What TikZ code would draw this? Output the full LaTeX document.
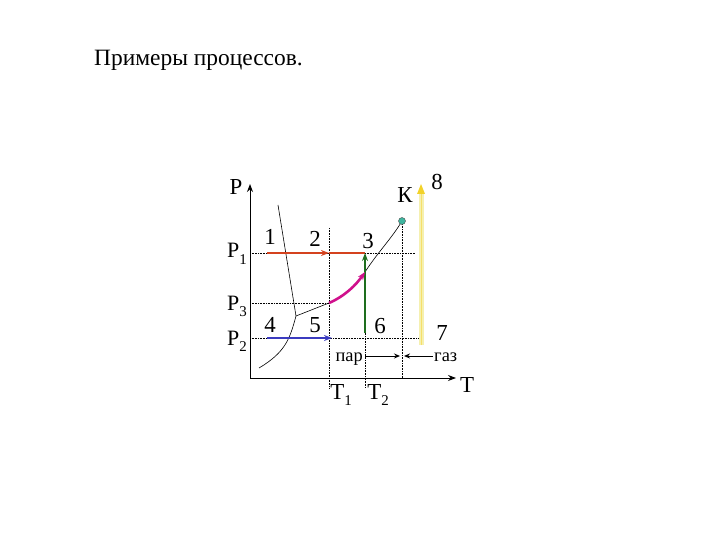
\documentclass[tikz,border=0pt]{standalone}
\usepackage{fontspec}
\setmainfont{Liberation Serif}
\newfontfamily\tnr{Liberation Serif}
\usetikzlibrary{arrows.meta}
\definecolor{redl}{HTML}{D4421E}
\definecolor{bluel}{HTML}{3B3BBF}
\definecolor{magl}{HTML}{D0108C}
\definecolor{greenl}{HTML}{1E6E1E}
\definecolor{yell}{HTML}{F5F0B0}
\definecolor{yelh}{HTML}{F2D22A}
\definecolor{tealk}{HTML}{3FB6A0}
\newcommand\lsub[1]{\raisebox{-0.3em}{\fontsize{15}{15}\selectfont #1}}
\tikzset{
  lbl/.style={inner sep=0pt, font=\tnr\fontsize{23}{25}\selectfont},
  plbl/.style={inner sep=0pt, font=\tnr\fontsize{22}{24}\selectfont},
  small/.style={inner sep=0pt, font=\tnr\fontsize{18.5}{20}\selectfont},
  grid/.style={black, densely dotted, line width=0.6bp},
  phase/.style={black, line width=0.6bp},
  axis/.style={black, line width=1bp, -{Stealth[length=8bp,width=6bp]}},
  proc/.style={line width=2.6bp, -{Stealth[length=8bp,width=6bp]}},
  thin arrow/.style={black, line width=1bp, -{Stealth[length=6bp,width=5bp]}},
}
\begin{document}
\begin{tikzpicture}[x=1bp,y=-1bp]
\useasboundingbox (0,0) rectangle (720,540);
% title
\node[anchor=base west, inner sep=0pt, font=\tnr\fontsize{23.5}{26}\selectfont] (title) at (94,66) {Примеры процессов.};
% key coordinates
\coordinate (O) at (250,378);
\coordinate (Ptop) at (250,184);
\coordinate (Tend) at (456,378);
\coordinate (K) at (402,221);
\coordinate (A1) at (267,253);
\coordinate (A2) at (329,253);
\coordinate (A3) at (365,253);
\coordinate (A4) at (267,338);
\coordinate (A5) at (332,338);
\coordinate (A6) at (365,333);
\coordinate (M0) at (329,303);
\coordinate (M1) at (365,272);
\coordinate (Tr) at (296,316);
% grid lines
\draw[grid] (250,253) -- (416,253);
\draw[grid] (250,303) -- (329,303);
\draw[grid] (250,338) -- (420,338);
\draw[grid] (329,228) -- (329,388);
\draw[grid] (365,253) -- (365,388);
\draw[grid] (K) -- (402,378);
% axes
\draw[axis] (O) -- (Ptop);
\draw[axis] (O) -- (Tend);
% phase lines
\draw[phase] (278,205) -- (Tr);
\draw[phase] (Tr) .. controls (290,338) and (286,352) .. (259,368);
\draw[phase] (Tr) -- (M0) .. controls (345,296) and (356,285) .. (M1) .. controls (378,252) and (392,238) .. (K);
% critical point
\fill[tealk, draw=black!70, line width=0.4bp] (K) circle (3.5bp);
% yellow process
\draw[yell, line width=5bp] (421,345) -- (421,192);
\draw[yelh!70!white, line width=1bp] (421,345) -- (421,192);
\fill[yelh] (421,184) -- (417,194) -- (425,194) -- cycle;
% red process
\draw[redl, proc] (A1) -- (A2);
\draw[redl, line width=2.6bp] (A2) -- (A3);
% green process
\draw[greenl, proc] (A6) -- (A3);
% magenta
\draw[magl, proc] (M0) .. controls (345,296) and (356,285) .. (M1);
% blue
\draw[bluel, proc] (A4) -- (A5);
% labels
\node[lbl, anchor=base] (lP) at (236,195) {P};
\node[plbl, anchor=base east] (lP1) at (247,258) {P\lsub{1}};
\node[plbl, anchor=base east] (lP3) at (247,310) {P\lsub{3}};
\node[plbl, anchor=base east] (lP2) at (247,345) {P\lsub{2}};
\node[lbl, anchor=base] (n1) at (270,245) {1};
\node[lbl, anchor=base] (n2) at (315,247) {2};
\node[lbl, anchor=base] (n3) at (368,249) {3};
\node[lbl, anchor=base] (n4) at (270,332) {4};
\node[lbl, anchor=base] (n5) at (315,332) {5};
\node[lbl, anchor=base] (n6) at (380,333) {6};
\node[lbl, anchor=base] (n7) at (442,340) {7};
\node[lbl, anchor=base] (n8) at (437,190) {8};
\node[lbl, anchor=base] (nK) at (405,203) {К};
\node[lbl, anchor=base] (nT) at (467,392) {T};
\node[lbl, anchor=base] (T1) at (341,399) {T\lsub{1}};
\node[lbl, anchor=base] (T2) at (378,399) {T\lsub{2}};
\node[small, anchor=base east] (par) at (363,361) {пар};
\node[small, anchor=base west] (gaz) at (434,361) {газ};
\coordinate (pa) at (365,356);
\coordinate (pb) at (400,356);
\coordinate (ga) at (433,356);
\coordinate (gb) at (404,356);
\draw[thin arrow] (pa) -- (pb);
\draw[thin arrow] (ga) -- (gb);
\end{tikzpicture}
\end{document}
